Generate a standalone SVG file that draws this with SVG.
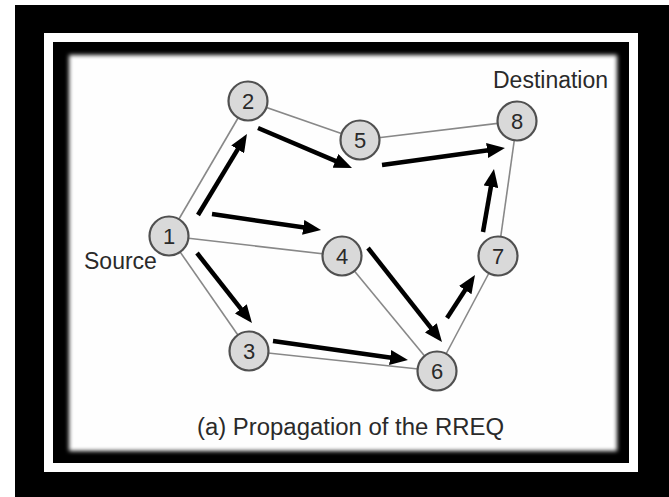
<svg xmlns="http://www.w3.org/2000/svg" width="669" height="497" viewBox="0 0 669 497">
<defs>
<style>
.node circle{fill:#d9d9d9;stroke:#505050;stroke-width:2.2}
.node text{font-family:"Liberation Sans",Arial,sans-serif;font-size:22px;fill:#2a2a2a;text-anchor:middle}
.link{stroke:#888;stroke-width:1.6;fill:none}
.arrow{stroke:#000;stroke-width:4.5;fill:none;marker-end:url(#head)}
.lbl{font-family:"Liberation Sans",Arial,sans-serif;font-size:23px;fill:#2a2a2a}
</style>
<marker id="head" markerUnits="userSpaceOnUse" markerWidth="19" markerHeight="15" refX="3" refY="7.5" orient="auto">
<path d="M0,0 L18,7.5 L0,15 Z" fill="#000"/>
</marker>
<filter id="soft" x="-5%" y="-5%" width="110%" height="110%">
<feGaussianBlur stdDeviation="2.3"/>
</filter>
<clipPath id="inner"><rect x="53" y="42" width="576" height="421"/></clipPath>
</defs>
<rect x="0" y="0" width="669" height="497" fill="#fff"/>
<rect x="15" y="5" width="654" height="492" fill="#000"/>
<rect x="44" y="33" width="594" height="439" fill="#fff"/>
<rect x="53" y="42" width="576" height="421" fill="#000"/>
<g clip-path="url(#inner)">
<rect x="69" y="55" width="548" height="396" fill="#fefefe" filter="url(#soft)"/>
</g>
<g id="connectors">
<line class="link" x1="169" y1="236" x2="248" y2="101"/>
<line class="link" x1="248" y1="101" x2="360" y2="140"/>
<line class="link" x1="360" y1="140" x2="517" y2="121"/>
<line class="link" x1="517" y1="121" x2="498" y2="256"/>
<line class="link" x1="498" y1="256" x2="437" y2="371"/>
<line class="link" x1="437" y1="371" x2="342" y2="256"/>
<line class="link" x1="342" y1="256" x2="169" y2="236"/>
<line class="link" x1="169" y1="236" x2="249" y2="351"/>
<line class="link" x1="249" y1="351" x2="437" y2="371"/>
<line class="arrow" x1="198" y1="215" x2="239.2" y2="146.8"/>
<line class="arrow" x1="258" y1="128" x2="338.2" y2="162.1"/>
<line class="arrow" x1="382" y1="165" x2="490.1" y2="150.1"/>
<line class="arrow" x1="212" y1="214" x2="306.2" y2="227.8"/>
<line class="arrow" x1="197" y1="253" x2="242.7" y2="311.2"/>
<line class="arrow" x1="273" y1="341" x2="393.1" y2="357.9"/>
<line class="arrow" x1="368" y1="248" x2="432.7" y2="330.2"/>
<line class="arrow" x1="447" y1="318" x2="466.8" y2="287.6"/>
<line class="arrow" x1="483" y1="232" x2="491.4" y2="183.8"/>
</g>
<g id="n1" class="node"><circle cx="169" cy="236" r="19.5"/><text x="169" y="244">1</text></g>
<g id="n2" class="node"><circle cx="248" cy="101" r="19.5"/><text x="248" y="109">2</text></g>
<g id="n3" class="node"><circle cx="249" cy="351" r="19.5"/><text x="249" y="359">3</text></g>
<g id="n4" class="node"><circle cx="342" cy="256" r="19.5"/><text x="342" y="264">4</text></g>
<g id="n5" class="node"><circle cx="360" cy="140" r="19.5"/><text x="360" y="148">5</text></g>
<g id="n6" class="node"><circle cx="437" cy="371" r="19.5"/><text x="437" y="379">6</text></g>
<g id="n7" class="node"><circle cx="498" cy="256" r="19.5"/><text x="498" y="264">7</text></g>
<g id="n8" class="node"><circle cx="517" cy="121" r="19.5"/><text x="517" y="129">8</text></g>
<g id="labels">
<text class="lbl" x="84" y="269">Source</text>
<text class="lbl" x="493" y="88">Destination</text>
<text class="lbl" x="197" y="435" font-size="22" textLength="307" lengthAdjust="spacingAndGlyphs">(a) Propagation of the RREQ</text>
</g>
</svg>
